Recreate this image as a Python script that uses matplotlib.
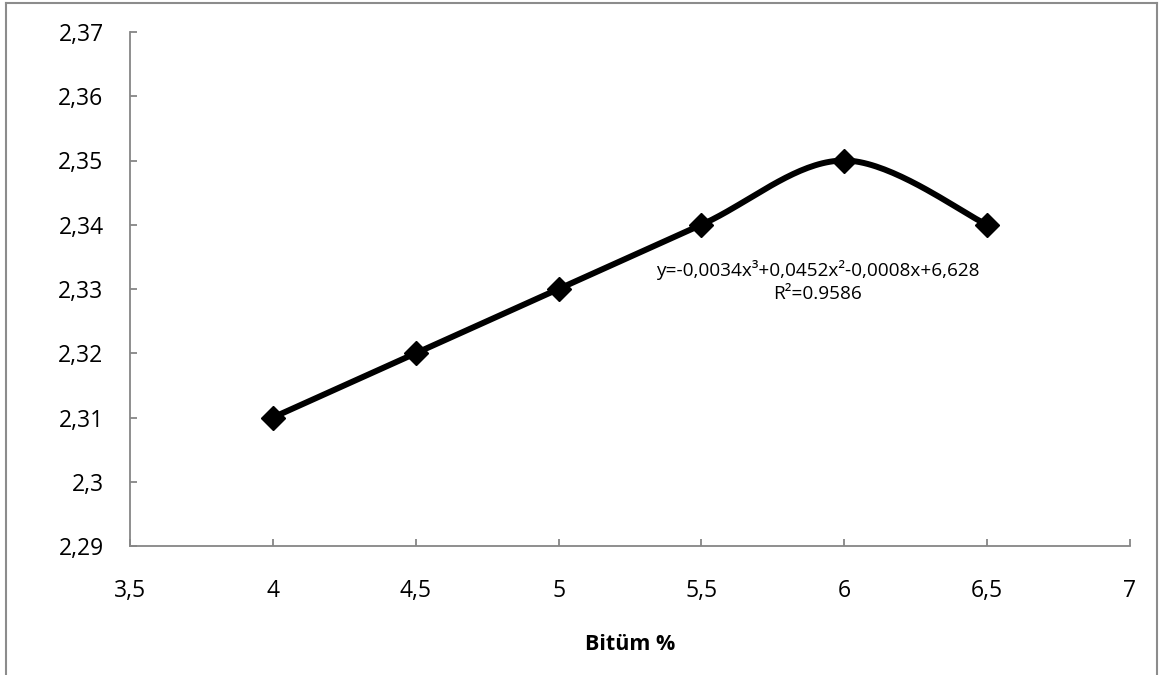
import numpy as np
import matplotlib
matplotlib.use("Agg")
import matplotlib.pyplot as plt
from matplotlib.ticker import FuncFormatter, MultipleLocator
from matplotlib.lines import Line2D

bitumen = [4, 4.5, 5, 5.5, 6, 6.5]
density = [2.31, 2.32, 2.33, 2.34, 2.35, 2.34]
equation = "y=-0,0034x³+0,0452x²-0,0008x+6,628"
r2_text = "R²=0.9586"
xlabel = "Bitüm %"

plt.rcParams['font.family'] = ['Open Sans', 'DejaVu Sans']

fig = plt.figure(figsize=(11.6, 6.75), dpi=100)
ax = fig.add_axes([130/1160, 1-546/675, 1000/1160, 514/675])

xmin, xmax, ymin, ymax = 3.5, 7, 2.29, 2.37
ax.set_xlim(xmin, xmax)
ax.set_ylim(ymin, ymax)

# Excel-like smoothed line (Catmull-Rom in normalized screen space)
px = (np.array(bitumen) - xmin) / (xmax - xmin) * 1000
py = (np.array(density) - ymin) / (ymax - ymin) * 514
P = np.column_stack([px, py])
n = len(P)
curve = []
t = np.linspace(0, 1, 40)
for i in range(n - 1):
    p0 = P[i - 1] if i > 0 else P[i]
    p1 = P[i]
    p2 = P[i + 1]
    p3 = P[i + 2] if i + 2 < n else P[i + 1]
    c1 = p1 + (p2 - p0) / 6
    c2 = p2 - (p3 - p1) / 6
    seg = ((1 - t)[:, None] ** 3 * p1 + 3 * ((1 - t) ** 2 * t)[:, None] * c1
           + 3 * ((1 - t) * t ** 2)[:, None] * c2 + (t ** 3)[:, None] * p2)
    curve.append(seg)
curve = np.vstack(curve)
cx = curve[:, 0] / 1000 * (xmax - xmin) + xmin
cy = curve[:, 1] / 514 * (ymax - ymin) + ymin

ax.plot(cx, cy, color='black', lw=4.3, solid_capstyle='round', zorder=3)
ax.plot(bitumen, density, linestyle='none', marker='D', markersize=12,
        color='black', zorder=4)

ax.xaxis.set_major_locator(MultipleLocator(0.5))
ax.yaxis.set_major_locator(MultipleLocator(0.01))
fmt = FuncFormatter(lambda v, p: f"{round(v, 4):g}".replace('.', ','))
ax.xaxis.set_major_formatter(fmt)
ax.yaxis.set_major_formatter(fmt)

for s in ['top', 'right']:
    ax.spines[s].set_visible(False)
for s in ['left', 'bottom']:
    ax.spines[s].set_color('#868686')
    ax.spines[s].set_linewidth(1.3)
ax.tick_params(axis='both', direction='in', length=5, width=1.3,
               color='#868686', labelsize=16.5, labelcolor='black')
ax.tick_params(axis='x', pad=24)
ax.tick_params(axis='y', pad=19)

ax.set_xlabel(xlabel, fontsize=15.5, fontweight='bold', labelpad=22)

ax.text(5.908, 2.3330, equation, fontsize=13.7, ha='center', va='center')
ax.text(5.908, 2.3292, r2_text, fontsize=13.7, ha='center', va='center')

border = dict(color='#8c8c8c', lw=1.5, transform=fig.transFigure)
fig.add_artist(Line2D([6/1160, 6/1160], [0, 1-3/675], **border))
fig.add_artist(Line2D([6/1160, 1157/1160], [1-3/675, 1-3/675], **border))
fig.add_artist(Line2D([1157/1160, 1157/1160], [0, 1-3/675], **border))

fig.savefig('out.png', dpi=100)
